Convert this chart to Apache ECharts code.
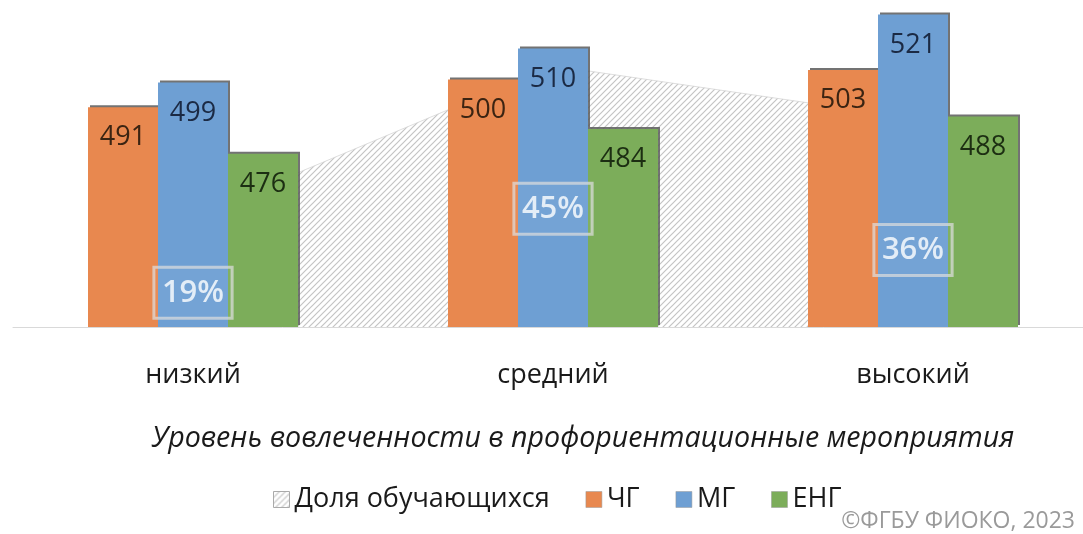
<!DOCTYPE html>
<html><head><meta charset="utf-8">
<script src="https://cdn.jsdelivr.net/npm/echarts@6/dist/echarts.min.js"></script>
<style>html,body{margin:0;padding:0;background:#fff;overflow:hidden;width:1083px;height:534px}#c{width:1093px;height:534px}</style>
</head><body><div id="c"></div>
<script>
const categories = ['низкий', 'средний', 'высокий'];
const shareLabel = 'Доля обучающихся';
const shareValues = [19, 45, 36];
const chgValues = [491, 500, 503];
const mgValues = [499, 510, 521];
const engValues = [476, 484, 488];
const axisTitle = 'Уровень вовлеченности в профориентационные мероприятия';
const credit = '©ФГБУ ФИОКО, 2023';

function hatch(bg) {
  const c = document.createElement('canvas');
  c.width = 6; c.height = 6;
  const g = c.getContext('2d');
  g.fillStyle = bg; g.fillRect(0, 0, 6, 6);
  g.strokeStyle = '#c4c4c4'; g.lineWidth = 1.2;
  g.beginPath();
  g.moveTo(0, 6); g.lineTo(6, 0);
  g.moveTo(-3, 3); g.lineTo(3, -3);
  g.moveTo(3, 9); g.lineTo(9, 3);
  g.stroke();
  return c;
}
const hatchPattern = { image: hatch('#ffffff'), repeat: 'repeat' };
const FONT = '"Open Sans", "Noto Sans", sans-serif';
const labelOffsets = [[0, 76], [0, 143], [0, 132]];

const chart = echarts.init(document.getElementById('c'));
const barShadow = { shadowColor: 'rgba(90,90,90,0.85)', shadowBlur: 0, shadowOffsetX: 2, shadowOffsetY: -2 };
function barSeries(name, data, color, labelColor) {
  return {
    name, type: 'bar', data, barWidth: 70, barGap: '0%', z: 3,
    itemStyle: Object.assign({ color }, barShadow),
    label: { show: true, position: 'insideTop', distance: 17, color: labelColor, fontSize: 27, fontFamily: FONT },
    emphasis: { disabled: true }
  };
}
chart.setOption({
  animation: false,
  backgroundColor: '#ffffff',
  grid: { left: 13, width: 1080, top: 2, height: 325 },
  xAxis: {
    type: 'category', data: categories,
    axisLine: { show: true, lineStyle: { color: '#d9d9d9', width: 1 } },
    axisTick: { show: false },
    axisLabel: { color: '#1a1a1a', fontSize: 27, fontFamily: FONT, margin: 35 },
    name: axisTitle, nameLocation: 'middle', nameGap: 97,
    nameTextStyle: { color: '#1a1a1a', fontSize: 28.6, fontStyle: 'italic', fontFamily: FONT, padding: [0, 0, 0, 60] }
  },
  yAxis: [
    { type: 'value', min: 420, max: 525, show: false, splitLine: { show: false } },
    { type: 'value', min: 0, max: 56, show: false, splitLine: { show: false } }
  ],
  legend: {
    bottom: 16, left: 268, itemWidth: 16, itemHeight: 16, itemGap: 36,
    textStyle: { color: '#1a1a1a', fontSize: 27, fontFamily: FONT },
    data: [
      { name: shareLabel, icon: 'rect', itemStyle: { color: hatchPattern, borderColor: '#aaaaaa', borderWidth: 1 } },
      { name: 'ЧГ', icon: 'rect', itemStyle: { color: '#E8884F', borderColor: '#999', borderWidth: 0.5 } },
      { name: 'МГ', icon: 'rect', itemStyle: { color: '#6E9FD3', borderColor: '#999', borderWidth: 0.5 } },
      { name: 'ЕНГ', icon: 'rect', itemStyle: { color: '#7CAD5A', borderColor: '#999', borderWidth: 0.5 } }
    ]
  },
  graphic: [{
    type: 'text', right: 18, bottom: 1,
    style: { text: credit, fill: '#9a9a9a', fontSize: 23, fontFamily: FONT }
  }],
  series: [
    {
      name: shareLabel, type: 'line', yAxisIndex: 1, z: 1,
      data: shareValues,
      symbol: 'none',
      lineStyle: { width: 0.8, color: '#d6d6d6' },
      areaStyle: { color: hatchPattern, opacity: 1 },
      itemStyle: { color: '#cccccc' },
      emphasis: { disabled: true }
    },
    barSeries('ЧГ', chgValues, '#E8884F', '#3b2412'),
    barSeries('МГ', mgValues, '#6E9FD3', '#1b2a44'),
    barSeries('ЕНГ', engValues, '#7CAD5A', '#1c2e12'),
    {
      name: shareLabel + ' (подписи)', type: 'scatter', yAxisIndex: 1, z: 10,
      symbol: 'circle', symbolSize: 0,
      data: shareValues.map((v, i) => ({ value: v, label: { offset: labelOffsets[i] } })),
      label: {
        show: true, position: 'inside', formatter: '{c}%',
        color: '#ffffff', fontSize: 31, fontWeight: 600, fontFamily: FONT,
        backgroundColor: 'rgba(255,255,255,0.06)', borderColor: 'rgba(220,220,220,0.9)', borderWidth: 1.5,
        padding: [12, 8, 8, 8]
      },
      emphasis: { disabled: true },
      silent: true
    }
  ]
});
</script></body></html>
